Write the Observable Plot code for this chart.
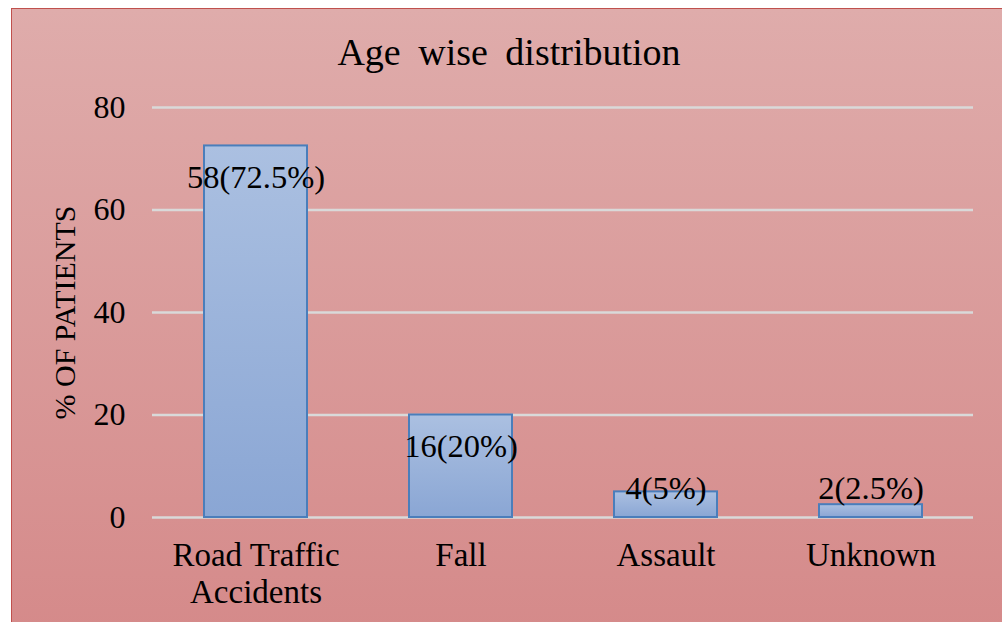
<!DOCTYPE html>
<html><head><meta charset="utf-8">
<script src="https://cdn.jsdelivr.net/npm/d3@7"></script>
<script src="https://cdn.jsdelivr.net/npm/@observablehq/plot@0.6"></script>
<style>
html,body{margin:0;padding:0;background:#fff;}
body{position:relative;width:1002px;height:622px;overflow:hidden;font-family:"Liberation Serif","Tinos","DejaVu Serif","Times New Roman",Times,serif;}
#frame{position:absolute;left:11px;top:8px;width:1000px;height:620px;background:linear-gradient(#dfacab,#d58a8a);border-left:1.5px solid #c0504d;border-top:1.5px solid #c0504d;}
#title{position:absolute;left:0;width:1018px;top:33px;text-align:center;font-size:38px;line-height:38px;word-spacing:8px;color:#000;}
#chart{position:absolute;left:0;top:0;}
</style>
</head><body>
<div id="frame"></div>
<div id="title">Age wise distribution</div>
<div id="chart"></div>
<script>
const causes = ["Road Traffic Accidents", "Fall", "Assault", "Unknown"];
const causeLabels = ["Road Traffic\nAccidents", "Fall", "Assault", "Unknown"];
const counts = [58, 16, 4, 2];
const percents = [72.5, 20, 5, 2.5];
const yTicks = [0, 20, 40, 60, 80];

const data = causes.map((c, i) => ({cause: c, pct: percents[i], label: `${counts[i]}(${percents[i]}%)`}));
const labelMap = new Map(causes.map((c, i) => [c, causeLabels[i]]));

const serif = '"Liberation Serif","Tinos","DejaVu Serif","Times New Roman",Times,serif';

const plot = Plot.plot({
  width: 1002,
  height: 622,
  marginTop: 107,
  marginBottom: 105,
  marginLeft: 152,
  marginRight: 29,
  style: {fontFamily: serif, fontSize: "32px", background: "transparent", color: "#000", overflow: "visible"},
  x: {domain: causes, paddingInner: 0.5, paddingOuter: 0.25},
  y: {domain: [0, 80]},
  marks: [
    Plot.gridY(yTicks, {stroke: "#d9d9d9", strokeOpacity: 1, strokeWidth: 2.5}),
    Plot.barY(data, {x: "cause", y: "pct", fill: "url(#barGrad)", stroke: "#4a7ebb", strokeWidth: 2}),
    Plot.axisY({ticks: yTicks, tickSize: 0, tickPadding: 27, label: null, fontSize: 32}),
    Plot.axisY({ticks: [], label: "% OF PATIENTS", labelAnchor: "center", labelOffset: 99, labelArrow: "none", fontSize: 30}),
    Plot.axisX({tickSize: 0, tickPadding: 22, label: null, tickFormat: d => labelMap.get(d), lineHeight: 1.13, fontSize: 33}),
    Plot.text(data.filter(d => d.pct >= 20), {x: "cause", y: "pct", text: "label", dy: 32, fontSize: 32.5, fill: "#000"}),
    Plot.text(data.filter(d => d.cause === "Assault"), {x: "cause", y: "pct", text: "label", dy: -3, fontSize: 32.5, fill: "#000"}),
    Plot.text(data.filter(d => d.cause === "Unknown"), {x: "cause", y: "pct", text: "label", dy: -16, fontSize: 32.5, fill: "#000"})
  ]
});

const ns = "http://www.w3.org/2000/svg";
const defs = document.createElementNS(ns, "defs");
defs.innerHTML = '<linearGradient id="barGrad" x1="0" y1="0" x2="0" y2="1"><stop offset="0" stop-color="#abc0e1"/><stop offset="1" stop-color="#8aa6d4"/></linearGradient>';
plot.insertBefore(defs, plot.firstChild);
plot.querySelectorAll("text").forEach(t => t.setAttribute("font-family", serif));
document.getElementById("chart").appendChild(plot);
</script>
</body></html>
